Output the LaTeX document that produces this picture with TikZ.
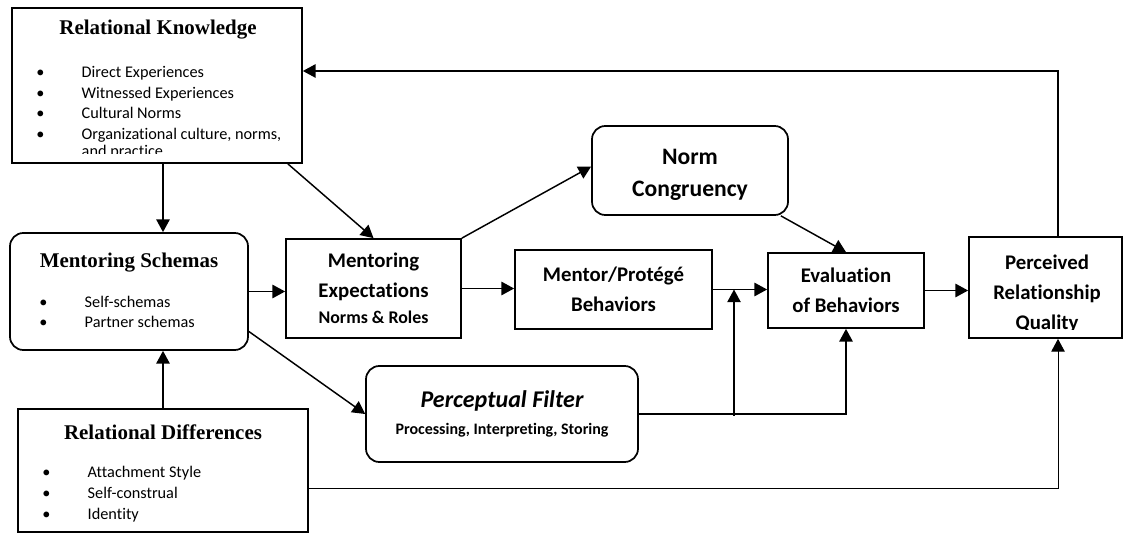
\documentclass[tikz,border=0pt]{standalone}
\usepackage{fontspec}
\setmainfont{Carlito}[Ligatures=NoCommon]
\newfontfamily\serifhead{Liberation Serif}
\usetikzlibrary{positioning,arrows.meta,calc}

% bullet item with a fixed hanging gap
\newcommand{\bul}[1]{\makebox[34pt][l]{\textbullet}#1}
\newcommand{\nobul}[1]{\hspace*{34pt}#1}

\begin{document}
\begin{tikzpicture}[
  x=0.75pt, y=0.75pt,
  >={Triangle[length=9.5pt,width=10pt]},
  %% Box styles
  box/.style   = {draw, line width=1.3pt, inner sep=0pt, align=center},
  rbox/.style  = {box, rounded corners=10pt},
  head/.style  = {font=\serifhead\bfseries\fontsize{15.7}{19}\selectfont, inner sep=0pt},
  blist/.style = {font=\fontsize{12.2}{15.5}\selectfont, align=left,
                  inner sep=0pt, anchor=north west},
  big/.style   = {font=\bfseries\fontsize{15.6}{22.5}\selectfont},
  arr/.style   = {->, line width=1.1pt},
  thinarr/.style = {->, line width=0.7pt},
]
\useasboundingbox (0,0) rectangle (1126,534);

%% ── Left column: knowledge, schemas, differences ──────────────
\node[box, minimum width=217.5pt, minimum height=116.25pt] (RK) at (157,448.5) {};
\node[head] (RKhead) at ($(RK.north)+(1,-22)$) {Relational Knowledge};
\begin{scope}
  \clip ($(RK.south west)+(0,10)$) rectangle (RK.north east);
  \node[blist] (RKlist) at ($(RK.north west)+(25,-59)$) {%
    \bul{Direct Experiences}\\
    \bul{Witnessed Experiences}\\
    \bul{Cultural Norms}\\
    \bul{Organizational culture, norms,}\\[-3pt]
    \nobul{and practice}};
\end{scope}

\node[rbox, minimum width=178.5pt, minimum height=87.75pt] (MS) at (129,242.5) {};
\node[head] (MShead) at ($(MS.north)+(0,-30)$) {Mentoring Schemas};
\node[blist, font=\fontsize{12.2}{14.5}\selectfont] (MSlist) at ($(MS.north west)+(30,-64)$) {%
  \bul{Self-schemas}\\
  \bul{Partner schemas}};

\node[box, minimum width=217.5pt, minimum height=92.25pt] (RD) at (163,63.5) {};
\node[head] (RDhead) at ($(RD.north)+(0,-24)$) {Relational Differences};
\node[blist] (RDlist) at ($(RD.north west)+(25,-58)$) {%
  \bul{Attachment Style}\\
  \bul{Self-construal}\\
  \bul{Identity}};

%% ── Middle: expectations, behaviours, filter, norms ───────────
\node[box, big, minimum width=131.25pt, minimum height=74.25pt] (ME) at (373.5,245.5)
  {Mentoring\\Expectations\\[-3pt]{\fontsize{13.4}{16}\selectfont Norms \& Roles}};

\node[box, big, minimum width=147.75pt, minimum height=59.25pt] (MP) at (613.5,244.5)
  {Mentor/Protégé\\Behaviors};

\node[rbox, minimum width=147pt, minimum height=66.75pt] (NC) at (690,363.5) {};
\node[font=\bfseries\fontsize{17.7}{24}\selectfont, align=center, inner sep=0pt]
  (NCtext) at (690,359.5) {Norm\\Congruency};

\node[rbox, big, minimum width=204pt, minimum height=72pt] (PF) at (502,120)
  {{\itshape\fontsize{18}{22}\selectfont Perceptual Filter}\\[-2pt]{\fontsize{12}{14}\selectfont Processing, Interpreting, Storing}};

%% ── Right: evaluation and quality ─────────────────────────────
\node[box, big, minimum width=117pt, minimum height=56.25pt] (EV) at (846,243.5)
  {Evaluation\\of Behaviors};

\node[box, minimum width=114.75pt, minimum height=75.75pt] (PRQ) at (1045.5,246.5) {};
\begin{scope}
  \clip ($(PRQ.south west)+(0,9)$) rectangle (PRQ.north east);
  \node[big, align=center, inner sep=0pt] (PRQtext) at (1047,240.5)
    {Perceived\\Relationship\\Quality};
\end{scope}

%% ── Arrows ────────────────────────────────────────────────────
\draw[arr] (RK.south -| RD.north) -- (MS.north -| RD.north);
\draw[arr] (RD.north) -- (RD.north |- MS.south);
\draw[arr] (MS.east) -- (MS.east -| ME.west);
\draw[arr] ($(RK.south east)+(-15,0)$) -- (ME.north);
\draw[arr] ($(MS.east)+(0,-40)$) -- (PF.west);
\draw[arr] (ME.east) -- (ME.east -| MP.west);
\draw[arr] (ME.north east) -- ($(NC.west)+(0,4)$);
\draw[arr] ($(NC.south east)+(-8,0)$) -- (EV.north);
\draw[arr] (MP.east) -- (MP.east -| EV.west);
\draw[arr] (PF.east) -| (EV.south);
\coordinate (tap) at (734,118);
\draw[arr] (tap) -- (tap |- MP.east);
\draw[arr] (EV.east) -- (EV.east -| PRQ.west);

%% feedback to knowledge, and differences to quality
\coordinate (fbk) at (1058,463);
\draw[arr] (PRQ.north -| fbk) -- (fbk) -- (fbk -| RK.east);
\coordinate (rdq) at (1058,46);
\draw[thinarr] (rdq -| RD.east) -- (rdq) -- (rdq |- PRQ.south);

\end{tikzpicture}
\end{document}
